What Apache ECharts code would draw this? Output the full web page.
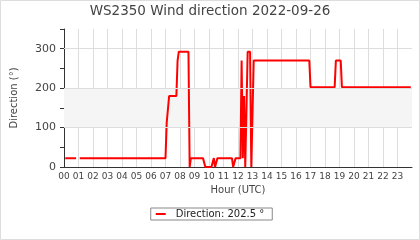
<!DOCTYPE html>
<html>
<head>
<meta charset="utf-8">
<script src="https://cdn.jsdelivr.net/npm/echarts@6/dist/echarts.min.js"></script>
<style>
html,body{margin:0;padding:0;background:#fff;}
#c{width:420px;height:240px;}
</style>
</head>
<body>
<div id="c"></div>
<script>
const titleText = 'WS2350 Wind direction 2022-09-26';
const times = ['00:05','00:50','00:55','01:05','07:00','07:05','07:10','07:15','07:45','07:50','07:55','08:35','08:40','08:45','09:35','09:45','10:10','10:20','10:25','10:35','11:35','11:40','11:50','12:10','12:15','12:20','12:25','12:30','12:35','12:40','12:50','12:55','13:00','13:05','16:55','17:00','18:40','18:45','19:05','19:10','23:55'];
const directions = [22.5,22.5,null,22.5,22.5,112.5,112.5,180,180,270,292.5,292.5,0,22.5,22.5,0,0,22.5,0,22.5,22.5,0,22.5,22.5,270,22.5,180,0,0,292.5,292.5,0,0,270,270,202.5,202.5,270,270,202.5,202.5];
const gridValues = [100, 200, 300];
const band = [100, 200];

function toHours(t){ const p = t.split(':'); return +p[0] + (+p[1])/60; }
const seriesData = times.map((t,i) => [toHours(t), directions[i]]);
const lastVal = directions[directions.length-1];
const seriesName = 'Direction: ' + lastVal + ' °';
const FONT = 'DejaVu Sans';

const chart = echarts.init(document.getElementById('c'), null, {renderer:'canvas'});
chart.setOption({
  animation: false,
  backgroundColor: '#fff',
  textStyle: {fontFamily: FONT},
  graphic: [{type:'rect', shape:{x:0.5,y:0.5,width:419,height:239}, style:{fill:'none', stroke:'#ddd', lineWidth:1}, z:100}],
  title: {text: titleText, left: 'center', top: 4, padding: 0,
    textStyle: {fontFamily: FONT, fontSize: 13.5, fontWeight: 'normal', color: '#444'}},
  grid: {left: 64, right: 8, top: 29, bottom: 73},
  legend: {left: 'center', top: 208, padding: [1, 8, 1, 5], borderColor: '#888', borderWidth: 1,
    itemWidth: 10, itemHeight: 2, icon: 'rect', data: [seriesName],
    textStyle: {fontFamily: FONT, fontSize: 10, color: '#222', padding: [0,0,0,5]}},
  xAxis: {type: 'value', min: 0, max: 24, interval: 1,
    name: 'Hour (UTC)', nameLocation: 'middle', nameGap: 15,
    nameTextStyle: {fontFamily: FONT, fontSize: 10, color: '#444'},
    axisLine: {lineStyle: {color: '#333'}},
    axisTick: {show: false},
    axisLabel: {fontFamily: FONT, fontSize: 9, color: '#444', margin: 5, showMaxLabel: false,
      formatter: v => (v < 10 ? '0' : '') + v},
    splitLine: {show: true, showMaxLine: false, lineStyle: {color: '#ddd', width: 1}}},
  yAxis: {type: 'value', min: 0, max: 350, interval: 50,
    name: 'Direction (°)', nameLocation: 'middle', nameGap: 45,
    nameTextStyle: {fontFamily: FONT, fontSize: 10, color: '#444'},
    axisLine: {show: true, lineStyle: {color: '#333'}},
    axisTick: {show: true, length: 4, lineStyle: {color: '#333'}},
    axisLabel: {fontFamily: FONT, fontSize: 11, color: '#444', margin: 8,
      formatter: v => (v % 100 === 0 ? String(v) : '')},
    splitLine: {show: false}},
  series: [
    {type: 'line', name: '_grid', data: [], z: -1, silent: true,
      markArea: {silent: true, itemStyle: {color: '#f5f5f5'}, data: [[{yAxis: band[0]}, {yAxis: band[1]}]]},
      markLine: {silent: true, symbol: 'none', label: {show: false},
        lineStyle: {color: '#ddd', type: 'solid', width: 1},
        data: gridValues.map(v => ({yAxis: v}))}},
    {type: 'line', name: seriesName, data: seriesData, showSymbol: false, connectNulls: false,
      lineStyle: {color: '#ff0000', width: 2}, itemStyle: {color: '#ff0000'}, z: 3}
  ]
});
</script>
</body>
</html>
